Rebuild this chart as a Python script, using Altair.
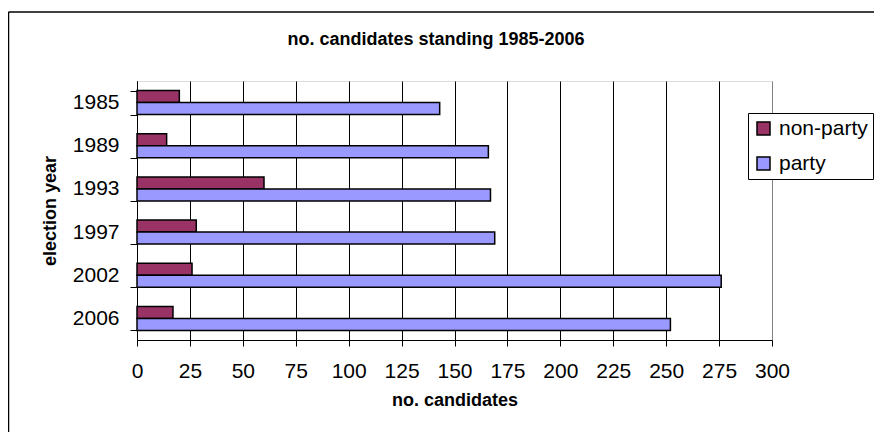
import altair as alt
import pandas as pd

years = ["1985", "1989", "1993", "1997", "2002", "2006"]
non_party = [20, 14, 60, 28, 26, 17]
party = [143, 166, 167, 169, 276, 252]
series_names = ["non-party", "party"]
series_colors = ["#993366", "#9999FF"]
x_ticks = list(range(0, 301, 25))
chart_title = "no. candidates standing 1985-2006"

rows = []
for i, y in enumerate(years):
    rows.append({"year": y, "series": "non-party", "value": non_party[i]})
    rows.append({"year": y, "series": "party", "value": party[i]})
df = pd.DataFrame(rows)

FONT = "Liberation Sans"
W, H = 635, 259

bars = alt.Chart(df).mark_bar(stroke="black", strokeWidth=1.5, opacity=1).encode(
    x=alt.X(
        "value:Q",
        scale=alt.Scale(domain=[0, 300], nice=False),
        axis=alt.Axis(
            values=x_ticks,
            title="no. candidates",
            titleFont=FONT,
            titleFontSize=18,
            titleFontWeight="bold",
            titleColor="black",
            titlePadding=10,
            labelFont=FONT,
            labelFontSize=21,
            labelColor="black",
            labelPadding=14,
            labelFlush=False,
            labelOverlap=False,
            tickSize=6,
            tickColor="black",
            domainColor="black",
            grid=True,
            gridColor=alt.condition("datum.value == 300", alt.value("#808080"), alt.value("black")),
            gridOpacity=1,
            gridWidth=1,
        ),
    ),
    y=alt.Y(
        "year:N",
        sort=years,
        scale=alt.Scale(paddingInner=0.444, paddingOuter=0.222),
        axis=alt.Axis(
            title="election year",
            titleFont=FONT,
            titleFontSize=18,
            titleFontWeight="bold",
            titleColor="black",
            titlePadding=13,
            labelFont=FONT,
            labelFontSize=21,
            labelColor="black",
            labelPadding=11,
            tickSize=7,
            tickColor="black",
            tickBand="extent",
            domainColor="black",
            grid=False,
        ),
    ),
    yOffset=alt.YOffset("series:N", sort=series_names),
    fill=alt.Fill(
        "series:N",
        scale=alt.Scale(domain=series_names, range=series_colors),
        legend=alt.Legend(
            title=None,
            orient="none",
            legendX=611,
            legendY=32,
            strokeColor="black",
            fillColor="white",
            padding=5,
            rowPadding=13,
            symbolType="square",
            symbolSize=169,
            symbolStrokeColor="black",
            symbolStrokeWidth=1.5,
            symbolOpacity=1,
            labelFont=FONT,
            labelFontSize=21,
            labelColor="black",
            labelOffset=5,
        ),
    ),
)

frame_df = pd.DataFrame({"k": [0]})
left_border = alt.Chart(frame_df).mark_rule(color="black", strokeWidth=1.5).encode(
    x=alt.value(-128.5), y=alt.value(-69), y2=alt.value(H + 92)
)
top_border = alt.Chart(frame_df).mark_rule(color="black", strokeWidth=1.5).encode(
    x=alt.value(-128.5), x2=alt.value(W + 102), y=alt.value(-69)
)
title_text = alt.Chart(frame_df).mark_text(
    font=FONT, fontSize=18, fontWeight="bold", color="black",
    align="center", baseline="alphabetic",
).encode(
    x=alt.value(299), y=alt.value(-36), text=alt.value(chart_title)
)

chart = alt.layer(bars, left_border, top_border, title_text).properties(
    width=W,
    height=H,
    autosize=alt.AutoSizeParams(type="none"),
    padding={"left": 129, "top": 73, "right": 102, "bottom": 92},
).configure_view(
    stroke="#808080", strokeWidth=1.5
).configure(background="white")

chart.save("out.html", embed_options={"renderer": "svg", "actions": False})
